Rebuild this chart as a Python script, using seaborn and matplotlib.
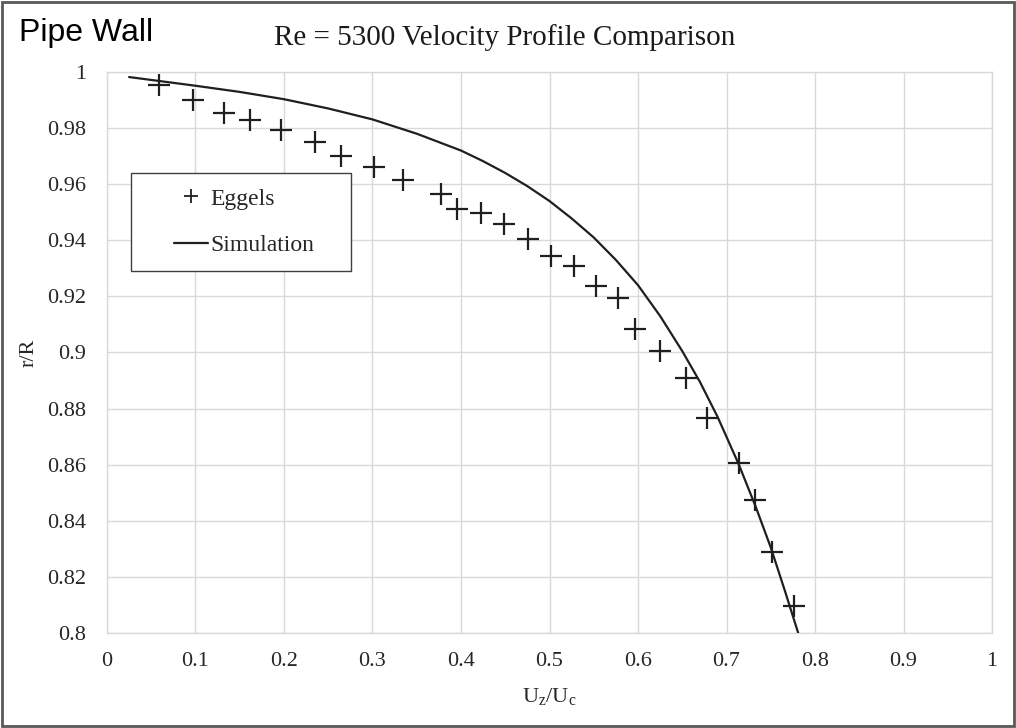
import matplotlib
matplotlib.use("Agg")
import matplotlib.pyplot as plt
import seaborn as sns
import pandas as pd
from matplotlib.patches import Rectangle
from matplotlib.lines import Line2D

# ---- data ----
eggels_u = [0.059, 0.097, 0.132, 0.162, 0.197, 0.235, 0.264, 0.302, 0.334, 0.377,
            0.395, 0.423, 0.449, 0.476, 0.502, 0.528, 0.552, 0.577, 0.597, 0.625,
            0.654, 0.678, 0.714, 0.732, 0.751, 0.776]
eggels_r = [0.9952, 0.9900, 0.9855, 0.9828, 0.9795, 0.9750, 0.9700, 0.9660, 0.9616, 0.9565,
            0.9510, 0.9496, 0.9459, 0.9406, 0.9345, 0.9307, 0.9238, 0.9195, 0.9083, 0.9004,
            0.8908, 0.8765, 0.8605, 0.8475, 0.8290, 0.8095]

sim_u = [0.025, 0.10, 0.15, 0.20, 0.25, 0.30, 0.35, 0.40, 0.425, 0.45, 0.475, 0.50,
         0.525, 0.55, 0.575, 0.60, 0.625, 0.65, 0.67, 0.69, 0.714, 0.733, 0.75, 0.766, 0.781]
sim_r = [0.9982, 0.9951, 0.9929, 0.9903, 0.9870, 0.9831, 0.9780, 0.9720, 0.9682, 0.9640,
         0.9593, 0.9540, 0.9478, 0.9410, 0.9330, 0.9240, 0.9130, 0.9005, 0.8895, 0.8770,
         0.8600, 0.8450, 0.8305, 0.8150, 0.8000]

x_ticks = [0, 0.1, 0.2, 0.3, 0.4, 0.5, 0.6, 0.7, 0.8, 0.9, 1.0]
x_tick_labels = ["0", "0.1", "0.2", "0.3", "0.4", "0.5", "0.6", "0.7", "0.8", "0.9", "1"]
y_ticks = [0.80, 0.82, 0.84, 0.86, 0.88, 0.90, 0.92, 0.94, 0.96, 0.98, 1.00]
y_tick_labels = ["0.8", "0.82", "0.84", "0.86", "0.88", "0.9", "0.92", "0.94", "0.96", "0.98", "1"]

series_names = ["Eggels", "Simulation"]
title_text = "Re = 5300 Velocity Profile Comparison"
corner_text = "Pipe Wall"

eggels_df = pd.DataFrame({"u": eggels_u, "r": eggels_r})
sim_df = pd.DataFrame({"u": sim_u, "r": sim_r})

sns.set_style("white")
plt.rcParams["font.family"] = ["Liberation Serif", "DejaVu Serif"]
plt.rcParams["mathtext.fontset"] = "custom"
plt.rcParams["mathtext.rm"] = "Liberation Serif"

fig = plt.figure(figsize=(10.16, 7.28), dpi=100)
ax = fig.add_axes([0.1053, 0.1305, 0.8711, 0.7706])

grid_c = "#d9d9d9"
ink = "#1f1f1f"
text_c = "#262626"

sns.lineplot(data=sim_df, x="u", y="r", ax=ax, color=ink, linewidth=1.6,
             sort=False, zorder=3, legend=False)
sns.scatterplot(data=eggels_df, x="u", y="r", ax=ax, marker="+", s=250,
                color=ink, linewidth=1.6, zorder=4, legend=False)

ax.set_xlim(0, 1)
ax.set_ylim(0.8, 1.0)
ax.set_xticks(x_ticks)
ax.set_xticklabels(x_tick_labels)
ax.set_yticks(y_ticks)
ax.set_yticklabels(y_tick_labels)
ax.tick_params(axis="both", length=0, labelsize=16, colors=text_c)
ax.tick_params(axis="x", pad=14)
ax.tick_params(axis="y", pad=15)
ax.grid(True, color=grid_c, linewidth=1.0)
for s in ax.spines.values():
    s.set_color(grid_c)
    s.set_linewidth(1.0)

ax.set_xlabel(r"U$_\mathregular{z}$/U$_\mathregular{c}$", fontsize=16, color=text_c, labelpad=11)
ax.set_ylabel("r/R", fontsize=16, color=text_c, labelpad=6)

# legend frame (white box with thin dark border)
ax.add_patch(Rectangle((0.0271, 0.6453), 0.2486, 0.1747, transform=ax.transAxes,
                       facecolor="white", edgecolor="#404040", linewidth=1.0, zorder=8))
h_egg = Line2D([], [], linestyle="none", marker="+", markersize=10,
               markeredgewidth=1.3, color=ink)
h_sim = Line2D([], [], color=ink, linewidth=1.6)
leg = ax.legend([h_egg, h_sim], series_names, loc="center left",
                bbox_to_anchor=(0.0757, 0.7326), fontsize=17, frameon=False,
                borderpad=0, borderaxespad=0, labelspacing=1.05,
                handlelength=1.45, handletextpad=0.1)
leg.set_zorder(10)
for t in leg.get_texts():
    t.set_color(text_c)

fig.text(0.497, 0.948, title_text, ha="center", va="center", fontsize=21, color="#1a1a1a")
fig.text(0.019, 0.955, corner_text, ha="left", va="center", fontsize=23,
         family=["Liberation Sans", "DejaVu Sans"], color="#000000")

fig.patches.append(Rectangle((0.002, 0.003), 0.996, 0.994, transform=fig.transFigure,
                             fill=False, edgecolor="#595959", linewidth=2.0))

fig.savefig("out.png", dpi=100)
